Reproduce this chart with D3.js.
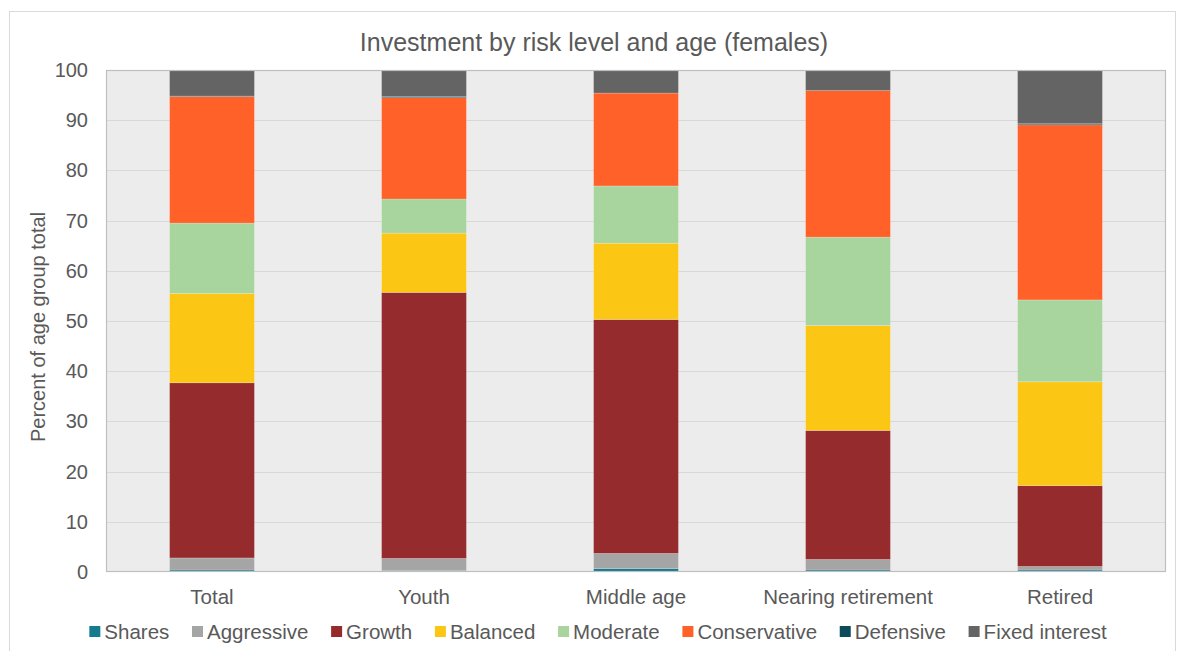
<!DOCTYPE html>
<html>
<head>
<meta charset="utf-8">
<script src="https://cdn.jsdelivr.net/npm/d3@7"></script>
<style>
  html, body { margin: 0; padding: 0; background: #ffffff; }
  svg { display: block; font-family: "Liberation Sans", Arial, sans-serif; }
</style>
</head>
<body>
<svg id="chart" width="1178" height="651"></svg>
<script>
const categories = ["Total", "Youth", "Middle age", "Nearing retirement", "Retired"];
const seriesNames = ["Shares", "Aggressive", "Growth", "Balanced", "Moderate", "Conservative", "Defensive", "Fixed interest"];
const shares       = [0.4, 0.3, 0.7, 0.4, 0.4];
const aggressive   = [2.4, 2.4, 3.0, 2.1, 0.7];
const growth       = [34.9, 53.0, 46.6, 25.7, 16.1];
const balanced     = [17.8, 11.8, 15.2, 20.9, 20.7];
const moderate     = [14.0, 6.8, 11.4, 17.6, 16.3];
const conservative = [25.2, 20.2, 18.5, 29.2, 34.9];
const defensive    = [0.1, 0.2, 0.0, 0.0, 0.2];
const fixedInterest= [5.2, 5.3, 4.6, 4.1, 10.7];
const yTicks = [0, 10, 20, 30, 40, 50, 60, 70, 80, 90, 100];
const colors = ["#167b8f", "#a5a5a5", "#952b2d", "#fcc714", "#a8d59d", "#ff6129", "#0c4b5b", "#646464"];

const seriesValues = [shares, aggressive, growth, balanced, moderate, conservative, defensive, fixedInterest];
const rows = categories.map((c, i) => {
  const r = { category: c };
  seriesNames.forEach((s, j) => r[s] = seriesValues[j][i]);
  return r;
});

const svg = d3.select("#chart");
const textColor = "#595959";
const margin = { left: 106, top: 70, right: 1166, bottom: 572 };

// outer chart border
svg.append("rect").attr("x", 9.5).attr("y", 11.5).attr("width", 1166).attr("height", 660)
  .attr("fill", "#fff").attr("stroke", "#d9d9d9").attr("stroke-width", 1);

const x = d3.scaleBand().domain(categories).range([margin.left, margin.right])
  .paddingInner(0.6).paddingOuter(0.3);
const y = d3.scaleLinear().domain([0, 100]).range([margin.bottom, margin.top]);

// plot background
svg.append("rect").attr("x", margin.left).attr("y", margin.top)
  .attr("width", margin.right - margin.left).attr("height", margin.bottom - margin.top)
  .attr("fill", "#ececec");

// gridlines
svg.append("g").selectAll("line").data(yTicks.filter(t => t > 0 && t < 100)).join("line")
  .attr("x1", margin.left).attr("x2", margin.right)
  .attr("y1", d => Math.round(y(d)) + 0.5).attr("y2", d => Math.round(y(d)) + 0.5)
  .attr("stroke", "#d8d8d8").attr("stroke-width", 1.2);

// bars
const stack = d3.stack().keys(seriesNames);
const stacked = stack(rows);
svg.append("g").selectAll("g").data(stacked).join("g")
  .attr("fill", (d, i) => colors[i])
  .selectAll("rect").data(d => d).join("rect")
  .attr("x", d => x(d.data.category))
  .attr("width", x.bandwidth())
  .attr("y", d => y(d[1]))
  .attr("height", d => Math.max(0, y(d[0]) - y(d[1])))
  .attr("stroke", "rgba(255,255,255,0.25)").attr("stroke-width", 0.8);

// plot border
svg.append("rect").attr("x", margin.left + 0.5).attr("y", margin.top + 0.5)
  .attr("width", margin.right - margin.left - 1).attr("height", margin.bottom - margin.top - 1)
  .attr("fill", "none").attr("stroke", "#bfbfbf").attr("stroke-width", 1.2);

// y axis
const yAxis = d3.axisLeft(y).tickValues(yTicks).tickSize(0).tickPadding(18);
const gy = svg.append("g").attr("transform", `translate(${margin.left},0)`).call(yAxis);
gy.select(".domain").remove();
gy.selectAll("text").attr("fill", textColor).style("font-size", "20px")
  .style("font-family", '"Liberation Sans", Arial, sans-serif');

// x axis
const xAxis = d3.axisBottom(x).tickSize(0).tickPadding(17);
const gx = svg.append("g").attr("transform", `translate(0,${margin.bottom})`).call(xAxis);
gx.select(".domain").remove();
gx.selectAll("text").attr("fill", textColor).style("font-size", "20.5px")
  .style("font-family", '"Liberation Sans", Arial, sans-serif');

// title
svg.append("text").attr("x", 594).attr("y", 51).attr("text-anchor", "middle")
  .attr("fill", textColor).style("font-size", "25px")
  .text("Investment by risk level and age (females)");

// y axis title
svg.append("text").attr("transform", `translate(45,327) rotate(-90)`)
  .attr("text-anchor", "middle").attr("fill", textColor).style("font-size", "20px")
  .text("Percent of age group total");

// legend
const legend = svg.append("g");
const items = legend.selectAll("g").data(seriesNames).join("g");
items.append("rect").attr("width", 11).attr("height", 11).attr("y", 626)
  .attr("fill", (d, i) => colors[i]);
items.append("text").attr("x", 15).attr("y", 639).attr("fill", textColor)
  .style("font-size", "20.5px").text(d => d);
const widths = [];
items.each(function () {
  const w = 15 + d3.select(this).select("text").node().getComputedTextLength();
  widths.push(w);
});
const gap = 22.7;
const total = d3.sum(widths) + gap * (widths.length - 1);
let start = 598 - total / 2;
items.attr("transform", (d, i) => {
  const t = `translate(${start},0)`;
  start += widths[i] + gap;
  return t;
});
</script>
</body>
</html>
